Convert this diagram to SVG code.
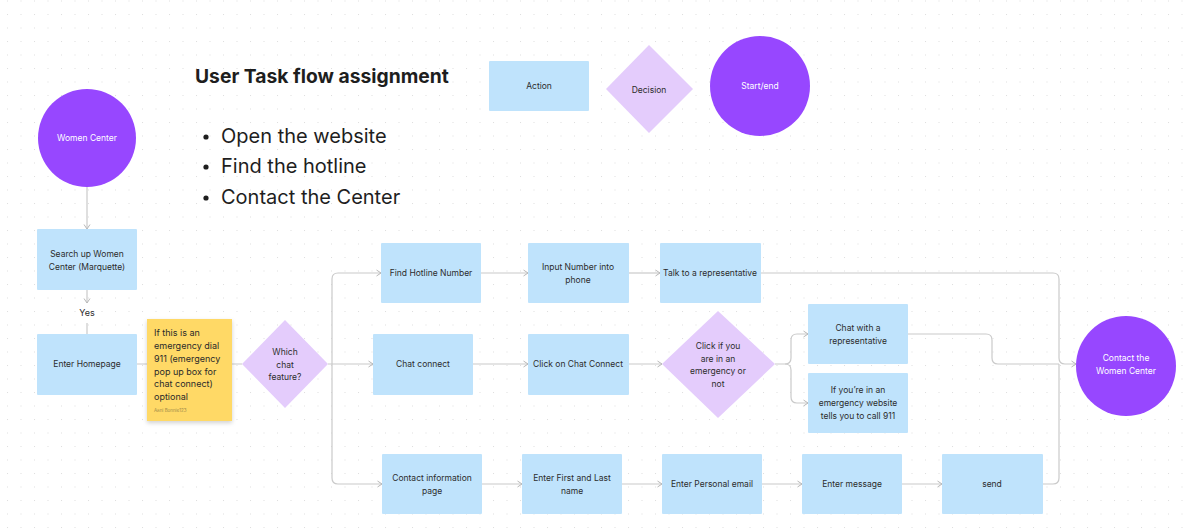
<svg xmlns="http://www.w3.org/2000/svg" width="1184" height="531" viewBox="0 0 1184 531">
  <defs>
    <pattern id="dots" x="7" y="0.5" width="13.5" height="13.5" patternUnits="userSpaceOnUse">
      <rect x="0" y="0" width="1" height="1" fill="#dedede"/>
    </pattern>
    <marker id="arrow" viewBox="0 0 6 8" refX="5.5" refY="4" markerWidth="6" markerHeight="8" markerUnits="userSpaceOnUse" orient="auto">
      <path d="M1,1 L5.5,4 L1,7" fill="none" stroke="#b8b8b8" stroke-width="1"/>
    </marker>
    <filter id="noteShadow" x="-20%" y="-20%" width="140%" height="140%">
      <feDropShadow dx="0" dy="2" stdDeviation="2" flood-color="#000" flood-opacity="0.18"/>
    </filter>
  </defs>
  <style>
    text { font-family: Inter, "Noto Sans", "Liberation Sans", sans-serif; }
    .action { fill: #bfe3fc; }
    .decision { fill: #e4ccfc; }
    .terminal { fill: #9747ff; }
    .lbl { font-size: 8.5px; fill: #2c2c2c; text-anchor: middle; }
    .lbl-w { font-size: 8.5px; fill: #ffffff; text-anchor: middle; }
    .conn { fill: none; stroke: #cacaca; stroke-width: 1.2; }
    .note { font-size: 9px; fill: #2a2a2a; }
    .bullet { font-size: 20px; fill: #1e1e1e; }
  </style>

  <rect width="1184" height="531" fill="#ffffff"/>
  <rect width="1184" height="531" fill="url(#dots)"/>

  <!-- heading and task list -->
  <g id="title">
    <text x="195" y="83" font-size="19.3" font-weight="700" fill="#1e1e1e">User Task flow assignment</text>
  </g>
  <g id="task-list">
    <circle cx="206" cy="137" r="2.6" fill="#1e1e1e"/>
    <text class="bullet" x="221" y="143">Open the website</text>
    <circle cx="206" cy="167" r="2.6" fill="#1e1e1e"/>
    <text class="bullet" x="221" y="173">Find the hotline</text>
    <circle cx="206" cy="198" r="2.6" fill="#1e1e1e"/>
    <text class="bullet" x="221" y="204">Contact the Center</text>
  </g>

  <!-- legend -->
  <g id="legend-action">
    <rect class="action" x="489" y="61" width="100" height="50" rx="1"/>
    <text class="lbl" x="539" y="89">Action</text>
  </g>
  <g id="legend-decision">
    <polygon class="decision" points="649,45 693,89 649,133 606,89"/>
    <text class="lbl" x="649" y="93">Decision</text>
  </g>
  <g id="legend-start-end">
    <circle class="terminal" cx="760" cy="86" r="50"/>
    <text class="lbl-w" x="760" y="89">Start/end</text>
  </g>

  <!-- connectors -->
  <g id="connectors">
    <path class="conn" d="M87,187 V229" marker-end="url(#arrow)"/>
    <path class="conn" d="M87,290 V303" marker-end="url(#arrow)"/>
    <path class="conn" d="M87,323 V334"/>
    <path class="conn" d="M137,364 H242"/>
    <path class="conn" d="M328,364 H373" marker-end="url(#arrow)"/>
    <path class="conn" d="M332,364 V279 Q332,273 338,273 H381" marker-end="url(#arrow)"/>
    <path class="conn" d="M332,364 V478 Q332,484 338,484 H382" marker-end="url(#arrow)"/>
    <path class="conn" d="M481,273 H528" marker-end="url(#arrow)"/>
    <path class="conn" d="M629,273 H660" marker-end="url(#arrow)"/>
    <path class="conn" d="M761,273 H1053 Q1059,273 1059,279 V358 Q1059,364 1065,364 H1076" marker-end="url(#arrow)"/>
    <path class="conn" d="M473,364 H528" marker-end="url(#arrow)"/>
    <path class="conn" d="M629,364 H662" marker-end="url(#arrow)"/>
    <path class="conn" d="M775,364 H785 Q791,364 791,358 V340 Q791,334 797,334 H808" marker-end="url(#arrow)"/>
    <path class="conn" d="M785,364 Q791,364 791,370 V397 Q791,403 797,403 H808" marker-end="url(#arrow)"/>
    <path class="conn" d="M908,334 H986 Q992,334 992,340 V358 Q992,364 998,364 H1059"/>
    <path class="conn" d="M482,484 H522" marker-end="url(#arrow)"/>
    <path class="conn" d="M622,484 H662" marker-end="url(#arrow)"/>
    <path class="conn" d="M762,484 H802" marker-end="url(#arrow)"/>
    <path class="conn" d="M902,484 H942" marker-end="url(#arrow)"/>
    <path class="conn" d="M1043,484 H1053 Q1059,484 1059,478 V364"/>
    <text x="87" y="316" font-size="9" fill="#2c2c2c" text-anchor="middle">Yes</text>
  </g>

  <!-- flow nodes -->
  <g id="women-center">
    <circle class="terminal" cx="87" cy="138" r="49"/>
    <text class="lbl-w" x="87" y="141">Women Center</text>
  </g>
  <g id="search-women-center">
    <rect class="action" x="37" y="229" width="100" height="61" rx="1"/>
    <text class="lbl" x="87" y="257">Search up Women</text>
    <text class="lbl" x="87" y="270">Center (Marquette)</text>
  </g>
  <g id="enter-homepage">
    <rect class="action" x="37" y="334" width="100" height="61" rx="1"/>
    <text class="lbl" x="87" y="367">Enter Homepage</text>
  </g>
  <g id="emergency-note">
    <rect x="147" y="319" width="85" height="102" fill="#ffd966" filter="url(#noteShadow)"/>
    <text class="note" x="154" y="336">If this is an</text>
    <text class="note" x="154" y="349">emergency dial</text>
    <text class="note" x="154" y="361.5">911 (emergency</text>
    <text class="note" x="154" y="374.5">pop up box for</text>
    <text class="note" x="154" y="387">chat connect)</text>
    <text class="note" x="154" y="400">optional</text>
    <text x="154" y="412" font-size="4.5" fill="#a08a4a">Aani Bonnie123</text>
  </g>
  <g id="which-chat-feature">
    <polygon class="decision" points="285,320 328,364 285,408 242,364"/>
    <text class="lbl" x="285" y="355">Which</text>
    <text class="lbl" x="285" y="368">chat</text>
    <text class="lbl" x="285" y="380">feature?</text>
  </g>
  <g id="find-hotline">
    <rect class="action" x="381" y="243" width="100" height="60" rx="1"/>
    <text class="lbl" x="431" y="276">Find Hotline Number</text>
  </g>
  <g id="input-number">
    <rect class="action" x="528" y="243" width="101" height="60" rx="1"/>
    <text class="lbl" x="578" y="270">Input Number into</text>
    <text class="lbl" x="578" y="283">phone</text>
  </g>
  <g id="talk-representative">
    <rect class="action" x="660" y="243" width="101" height="60" rx="1"/>
    <text class="lbl" x="710" y="276">Talk to a representative</text>
  </g>
  <g id="chat-connect">
    <rect class="action" x="373" y="334" width="100" height="61" rx="1"/>
    <text class="lbl" x="423" y="367">Chat connect</text>
  </g>
  <g id="click-chat-connect">
    <rect class="action" x="528" y="334" width="101" height="61" rx="1"/>
    <text class="lbl" x="578" y="367">Click on Chat Connect</text>
  </g>
  <g id="emergency-decision">
    <polygon class="decision" points="718,311 775,364 718,418 662,364"/>
    <text class="lbl" x="718" y="349">Click if you</text>
    <text class="lbl" x="718" y="362">are in an</text>
    <text class="lbl" x="718" y="374">emergency or</text>
    <text class="lbl" x="718" y="387">not</text>
  </g>
  <g id="chat-representative">
    <rect class="action" x="808" y="304" width="100" height="60" rx="1"/>
    <text class="lbl" x="858" y="331">Chat with a</text>
    <text class="lbl" x="858" y="344">representative</text>
  </g>
  <g id="call-911">
    <rect class="action" x="808" y="373" width="100" height="60" rx="1"/>
    <text class="lbl" x="858" y="393">If you’re in an</text>
    <text class="lbl" x="858" y="406">emergency website</text>
    <text class="lbl" x="858" y="419">tells you to call 911</text>
  </g>
  <g id="contact-women-center">
    <circle class="terminal" cx="1126" cy="366" r="50"/>
    <text class="lbl-w" x="1126" y="361">Contact the</text>
    <text class="lbl-w" x="1126" y="374">Women Center</text>
  </g>
  <g id="contact-info-page">
    <rect class="action" x="382" y="454" width="100" height="60" rx="1"/>
    <text class="lbl" x="432" y="481">Contact information</text>
    <text class="lbl" x="432" y="494">page</text>
  </g>
  <g id="enter-name">
    <rect class="action" x="522" y="454" width="100" height="60" rx="1"/>
    <text class="lbl" x="572" y="481">Enter First and Last</text>
    <text class="lbl" x="572" y="494">name</text>
  </g>
  <g id="enter-email">
    <rect class="action" x="662" y="454" width="100" height="60" rx="1"/>
    <text class="lbl" x="712" y="487">Enter Personal email</text>
  </g>
  <g id="enter-message">
    <rect class="action" x="802" y="454" width="100" height="60" rx="1"/>
    <text class="lbl" x="852" y="487">Enter message</text>
  </g>
  <g id="send">
    <rect class="action" x="942" y="454" width="101" height="60" rx="1"/>
    <text class="lbl" x="992" y="487">send</text>
  </g>
</svg>
